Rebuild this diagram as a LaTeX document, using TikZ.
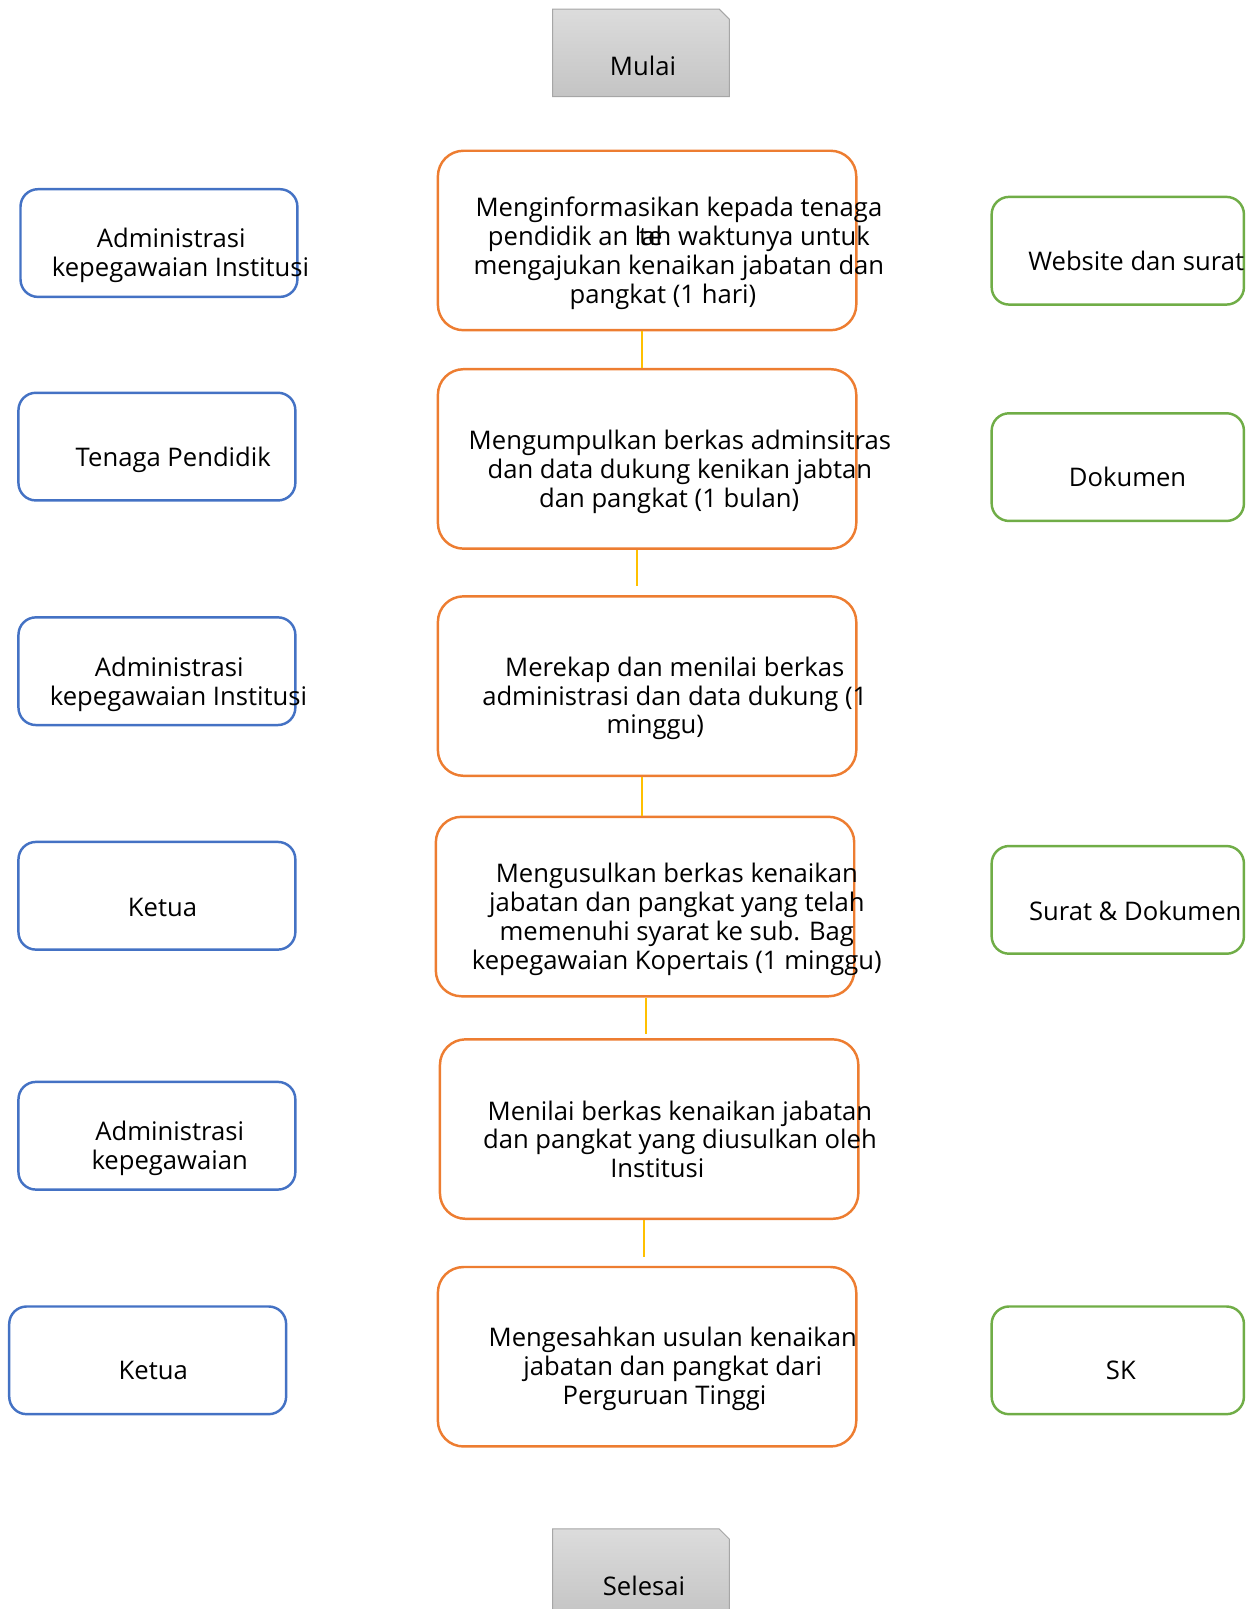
\documentclass[tikz,border=0pt]{standalone}
\usepackage{fontspec}
\setmainfont{Open Sans}
\usepackage{tikz}
\usetikzlibrary{shapes,positioning,calc}
\definecolor{oranye}{HTML}{ED7D31}
\definecolor{biru}{HTML}{4472C4}
\definecolor{hijau}{HTML}{70AD47}
\definecolor{emas}{HTML}{FFC000}
\definecolor{abuA}{HTML}{DCDCDC}
\definecolor{abuB}{HTML}{C4C4C4}
\definecolor{abuC}{HTML}{A6A6A6}
\tikzset{proses/.style={draw=oranye,line width=2.4pt,rounded corners=25pt,minimum width=408pt,minimum height=175pt}}
\tikzset{aktor/.style={draw=biru,line width=2.4pt,rounded corners=17pt,minimum width=270pt,minimum height=105pt}}
\tikzset{hasil/.style={draw=hijau,line width=2.4pt,rounded corners=17pt,minimum width=246pt,minimum height=105pt}}
\tikzset{ujung/.style={inner sep=0pt,minimum width=172pt,minimum height=85pt}}
\tikzset{potong/.style={draw=abuC,line width=1pt,top color=abuA,bottom color=abuB}}
\tikzset{teks/.style={font=\fontsize{25}{28}\selectfont,align=center,inner sep=0pt,yshift=-3pt}}
\tikzset{satu/.style={teks,text height=19pt,text depth=6pt}}
\tikzset{link/.style={draw=emas,line width=2.5pt}}

\begin{document}
\begin{tikzpicture}[x=1pt,y=-1pt]
   \useasboundingbox (0,0) rectangle (1227,1569);

   \node[ujung] (Mulai)   at (625,51.5)   {};
   \node[ujung] (Selesai) at (625,1533.5) {};
   \foreach \n in {Mulai,Selesai}
      \path[potong] (\n.south west) |- ([xshift=-10pt]\n.north east)
         -- ([yshift=-10pt]\n.north east) |- cycle;
   \node[satu]  (Mulait)  at (627,64)     {Mulai};
   \node[satu]  (Selesait) at (628,1546)  {Selesai};

   \node[proses] (P1) at (631,234.5) {};
   \node[proses] (P2) at (631,447.5) {};
   \node[proses] (P3) at (631,669)   {};
   \node[proses] (P4) at (629,884)   {};
   \node[proses] (P5) at (633,1101)  {};
   \node[proses] (P6) at (631,1323)  {};

   \node[teks] (P1t) at (662,244) {Menginformasikan kepada tenaga\\
      pendidik an \rlap{\hspace{4pt}te}lah waktunya untuk\hspace*{24pt}\\
      mengajukan kenaikan jabatan dan\\ pangkat (1 hari)\hspace*{31pt}};
   \node[teks] (P2t) at (663,457) {Mengumpulkan berkas adminsitras\\
      dan data dukung kenikan jabtan\\ dan pangkat (1 bulan)\hspace*{21pt}};
   \node[teks] (P3t) at (658,678) {Merekap dan menilai berkas\\
      administrasi dan data dukung (1\\ minggu)\hspace*{38pt}};
   \node[teks] (P4t) at (660,893.5) {Mengusulkan berkas kenaikan\\
      jabatan dan pangkat yang telah\\ memenuhi syarat ke sub. Bag\\
      kepegawaian Kopertais (1 minggu)};
   \node[teks] (P5t) at (663,1108) {Menilai berkas kenaikan jabatan\\
      dan pangkat yang diusulkan oleh\\ Institusi\hspace*{44pt}};
   \node[teks] (P6t) at (656,1332) {Mengesahkan usulan kenaikan\\
      jabatan dan pangkat dari\\ Perguruan Tinggi\hspace*{16pt}};

   \node[aktor] (A1) at (155,237)    {};
   \node[aktor] (A2) at (153,435.5)  {};
   \node[aktor] (A3) at (153,654.5)  {};
   \node[aktor] (A4) at (153,873.5)  {};
   \node[aktor] (A5) at (153,1107.5) {};
   \node[aktor] (A6) at (144,1326.5) {};

   \node[teks] (A1t) at (176,246)    {Administrasi\hspace*{18pt}\\ kepegawaian Institusi};
   \node[satu] (A2t) at (169,445)    {Tenaga Pendidik};
   \node[teks] (A3t) at (174,664)    {Administrasi\hspace*{18pt}\\ kepegawaian Institusi};
   \node[satu] (A4t) at (158.5,884)  {Ketua};
   \node[teks] (A5t) at (165.5,1116.5) {Administrasi\\ kepegawaian};
   \node[satu] (A6t) at (149.5,1336) {Ketua};

   \node[hasil] (O1) at (1090,244.5)  {};
   \node[hasil] (O2) at (1090,455.5)  {};
   \node[hasil] (O3) at (1090,877.5)  {};
   \node[hasil] (O4) at (1090,1326.5) {};

   \node[satu] (O1t) at (1108,254)   {Website dan surat};
   \node[satu] (O2t) at (1099.5,465) {Dokumen};
   \node[satu] (O3t) at (1107,888)   {Surat \& Dokumen};
   \node[satu] (O4t) at (1093,1336)  {SK};

   \path[link]
      ([xshift=-5]P1.south) edge ([xshift=-5]P2.north)
      ([xshift=-10]P2.south) edge[shorten >=9pt] ([xshift=-10]P3.north)
      ([xshift=-5]P3.south) edge ([xshift=-3]P4.north)
      ([xshift=1]P4.south) edge[shorten >=4pt] ([xshift=-3]P5.north)
      ([xshift=-5]P5.south) edge[shorten >=9pt] ([xshift=-3]P6.north)
   ;
\end{tikzpicture}
\end{document}
